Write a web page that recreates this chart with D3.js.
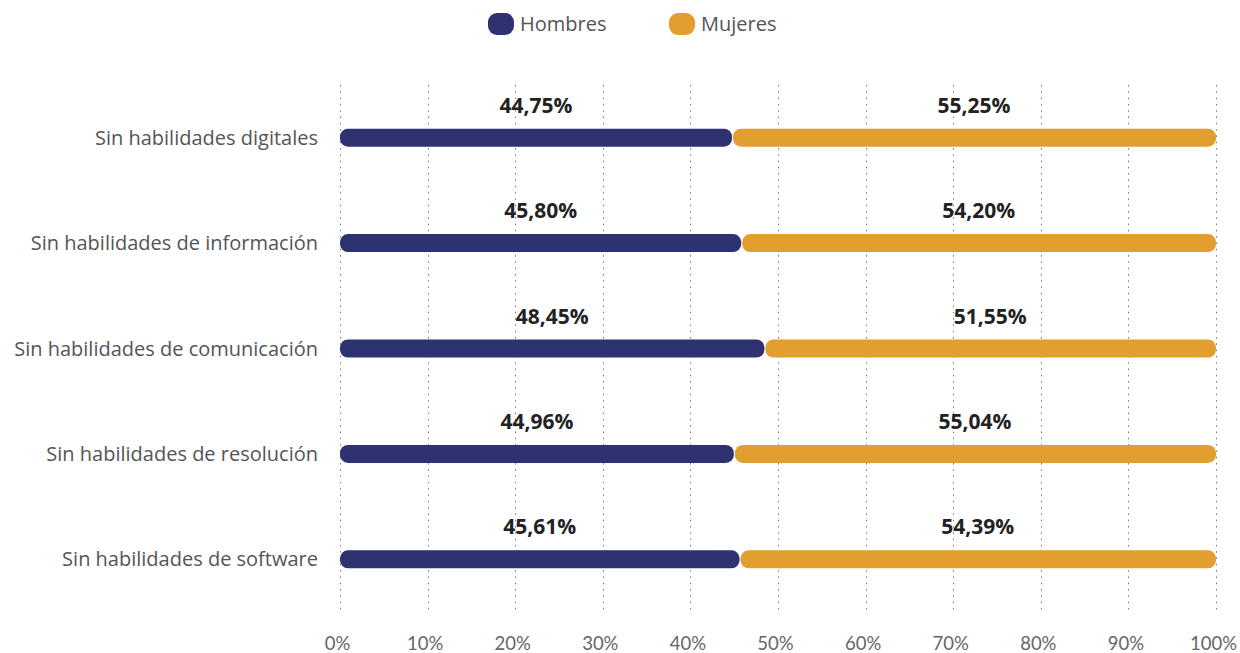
<!DOCTYPE html>
<html>
<head>
<meta charset="utf-8">
<script src="https://cdn.jsdelivr.net/npm/d3@7"></script>
<style>
  body { margin: 0; background: #fff; }
  text { font-family: "Open Sans", "Lato", sans-serif; }
</style>
</head>
<body>
<div id="chart"></div>
<script>
// DATA
const categories = [
  "Sin habilidades digitales",
  "Sin habilidades de información",
  "Sin habilidades de comunicación",
  "Sin habilidades de resolución",
  "Sin habilidades de software"
];
const hombres = [44.75, 45.80, 48.45, 44.96, 45.61];
const mujeres = [55.25, 54.20, 51.55, 55.04, 54.39];
const seriesNames = ["Hombres", "Mujeres"];
const seriesColors = ["#2e3270", "#e29f30"];
const ticks = [0, 10, 20, 30, 40, 50, 60, 70, 80, 90, 100];

// LAYOUT
const W = 1240, H = 653;
const x = d3.scaleLinear([0, 100], [340, 1216]);
const y = d3.scaleBand(categories, [85, 612]);
const barH = 18;

const svg = d3.select("#chart").append("svg")
  .attr("width", W)
  .attr("height", H);

// GRID
svg.append("g")
  .selectAll("line")
  .data(ticks)
  .enter().append("line")
  .attr("x1", d => Math.round(x(d)) + 0.5)
  .attr("x2", d => Math.round(x(d)) + 0.5)
  .attr("y1", 85)
  .attr("y2", 612)
  .attr("stroke", "#777")
  .attr("stroke-width", 1)
  .attr("stroke-dasharray", "1.5,4.8");

// X AXIS
const xAxis = svg.append("g")
  .attr("transform", "translate(0,634)")
  .call(d3.axisBottom(x).tickValues(ticks).tickFormat(d => d + "%").tickSize(0));
xAxis.select(".domain").remove();
xAxis.selectAll("text")
  .attr("dy", "0.71em")
  .attr("dx", "-3")
  .style("font-size", "18.5px")
  .style("font-family", "Lato, sans-serif")
  .attr("fill", "#666");

// CATEGORY LABELS
svg.append("g")
  .selectAll("text")
  .data(categories)
  .enter().append("text")
  .attr("x", 318)
  .attr("y", d => y(d) + y.bandwidth() / 2)
  .attr("dy", "0.35em")
  .attr("text-anchor", "end")
  .style("font-size", "20px")
  .attr("fill", "#555")
  .text(d => d);

// BARS
const rows = categories.map((c, i) => ({
  cat: c,
  segs: [
    { name: seriesNames[0], v0: 0, v1: hombres[i], v: hombres[i] },
    { name: seriesNames[1], v0: hombres[i], v1: hombres[i] + mujeres[i], v: mujeres[i] }
  ]
}));

const row = svg.append("g")
  .selectAll("g")
  .data(rows)
  .enter().append("g")
  .attr("transform", d => `translate(0,${y(d.cat) + y.bandwidth() / 2})`);

row.selectAll("rect")
  .data(d => d.segs)
  .enter().append("rect")
  .attr("x", d => x(d.v0) + (d.v0 > 0 ? 1 : 0))
  .attr("y", -barH / 2)
  .attr("width", d => x(d.v1) - x(d.v0) - (d.v0 > 0 ? 1 : 0))
  .attr("height", barH)
  .attr("rx", 8)
  .attr("fill", (d, i) => seriesColors[i]);

row.selectAll("text")
  .data(d => d.segs)
  .enter().append("text")
  .attr("x", d => (x(d.v0) + x(d.v1)) / 2)
  .attr("y", -25)
  .attr("text-anchor", "middle")
  .style("font-size", "21px")
  .style("font-weight", "bold")
  .attr("fill", "#222")
  .text(d => d.v.toFixed(2).replace(".", ",") + "%");

// LEGEND
const legendX = [488, 669];
const legend = svg.append("g")
  .selectAll("g")
  .data(seriesNames)
  .enter().append("g")
  .attr("transform", (d, i) => `translate(${legendX[i]},13)`);

legend.append("rect")
  .attr("width", 26)
  .attr("height", 22)
  .attr("rx", 9)
  .attr("fill", (d, i) => seriesColors[i]);

legend.append("text")
  .attr("x", 32)
  .attr("y", 11)
  .attr("dy", "0.35em")
  .style("font-size", "20px")
  .attr("fill", "#555")
  .text(d => d);
</script>
</body>
</html>
